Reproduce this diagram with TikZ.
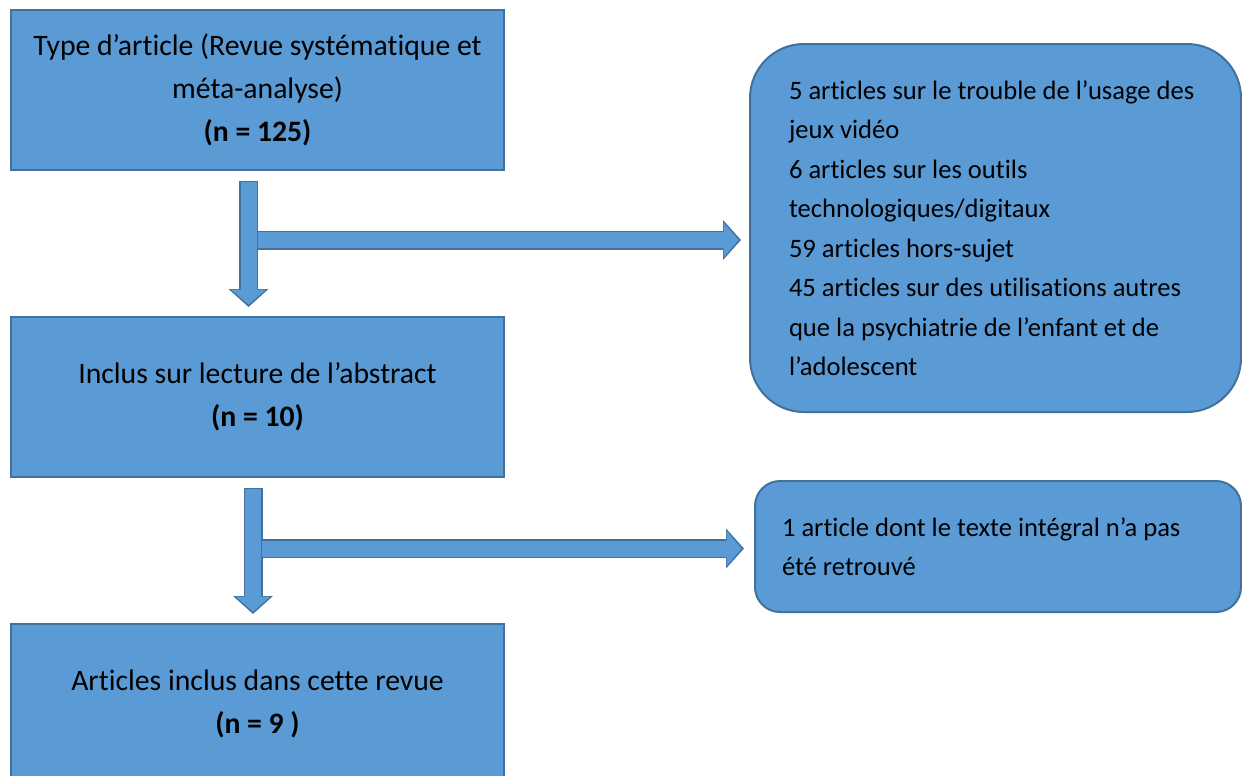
\documentclass[tikz,border=0pt]{standalone}
\usepackage{fontspec}
\setmainfont{Carlito}[Ligatures=NoCommon]
\usetikzlibrary{arrows.meta}
\usetikzlibrary{positioning}
\definecolor{boxblue}{HTML}{5B9BD5}
\definecolor{edgeblue}{HTML}{41719C}

\begin{document}
\begin{tikzpicture}[x=0.5pt,y=-0.5pt,
		stagebox/.style={draw=edgeblue, fill=boxblue, line width=1pt, minimum width=246.5pt, minimum height=80pt, inner sep=0pt, align=center, font=\fontsize{14.85}{21.5}\selectfont},
		exclbox/.style={draw=edgeblue, fill=boxblue, line width=1pt, align=flush left, font=\fontsize{13.3}{19.75}\selectfont},
		blockarrow/.style={draw=boxblue, line width=8pt, shorten >=1.2pt, -{Triangle[width=17pt,length=7.5pt]},
			preaction={draw=edgeblue, line width=9.5pt, shorten >=0pt, shorten <=-0.75pt, -{Triangle[width=19.5pt,length=9pt]}}}]
			\useasboundingbox (0,0) rectangle (1242,776);
			
			% Stages of the selection
			\node[stagebox] (type) at (257.5,90) {Type d’article (Revue systématique et\\ méta-analyse)\\ \textbf{(n = 125)}};
			\node[stagebox, below=72.5pt of type] (abstract) {Inclus sur lecture de l’abstract\\ \textbf{(n = 10)}};
			\node[stagebox, below=72.5pt of abstract] (review) {Articles inclus dans cette revue\\ \textbf{(n = 9 )}};
			
			% Excluded articles
			\node[exclbox, rounded corners=27pt, minimum width=245.5pt, minimum height=184pt, inner xsep=19.5pt, text width=206.5pt] (excl1) at (995.5,228) {\mbox{5 articles sur le trouble de l’usage des}\\ jeux vidéo\\ 6 articles sur les outils\\ technologiques/digitaux\\ 59 articles hors-sujet\\ \mbox{45 articles sur des utilisations autres}\\ que la psychiatrie de l’enfant et de\\ l’adolescent};
			\node[exclbox, rounded corners=12.5pt, minimum width=243pt, minimum height=65.5pt, inner xsep=13.5pt, text width=216pt] (excl2) at (998,546.5) {\mbox{1 article dont le texte intégral n’a pas}\\ été retrouvé};
			
			% Arrows
			\coordinate (top1) at (248.5,182);
			\coordinate (tip1) at (248.5,307);
			\coordinate (side1) at (258,240);
			\coordinate (top2) at (253,489);
			\coordinate (tip2) at (253,614);
			\coordinate (side2) at (262,548.5);
			\draw[blockarrow] (top1) -- (tip1);
			\draw[blockarrow] (side1) -- ([xshift=-4pt]excl1.west |- side1);
			\draw[blockarrow] (top2) -- (tip2);
			\draw[blockarrow] (side2) -- ([xshift=-5pt]excl2.west |- side2);
		\end{tikzpicture}
\end{document}
